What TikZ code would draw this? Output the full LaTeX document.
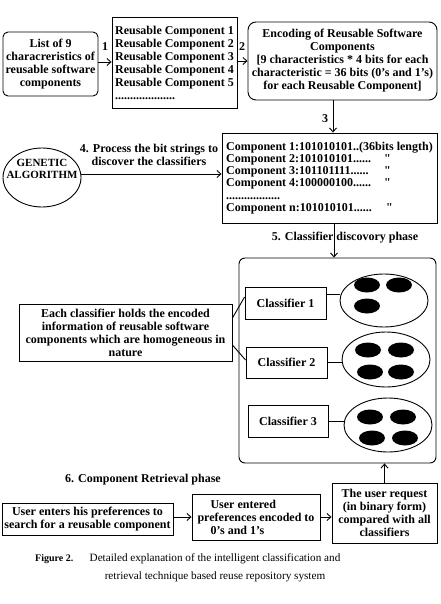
\documentclass[tikz,border=0pt]{standalone}
\usepackage{fontspec}
\setmainfont{Liberation Serif}
\newfontfamily\qfont{Liberation Serif}
\newcommand{\sq}{{\qfont"}}
\usetikzlibrary{arrows.meta,shapes.geometric,calc}
\tikzset{
  lbl/.style={font=\bfseries\fontsize{12}{13}\selectfont, inner sep=0pt},
  box/.style={draw, line width=0.9pt, inner sep=0pt, align=center, lbl},
  rbox/.style={box, rounded corners=6pt},
  arr/.style={line width=0.9pt, -{Straight Barb[length=4pt,width=7pt]}},
  ln/.style={line width=0.9pt},
  blob/.style={fill=black, ellipse, minimum width=26pt, minimum height=15pt, inner sep=0pt},
  oval/.style={draw, ellipse, line width=0.9pt, inner sep=0pt},
}
\begin{document}
\begin{tikzpicture}[x=1pt,y=-1pt]
\useasboundingbox (0,0) rectangle (440,604);

% top row
\node[rbox, rounded corners=5pt, minimum width=95, minimum height=64] (list) at (50.5,64)
  {List of 9\\characreristics of\\reusable software\\components};
\node[box, align=left, minimum width=125, minimum height=91] (reuse) at (174.5,62.5)
  {Reusable Component 1\\Reusable Component 2\\Reusable Component 3\\Reusable Component 4\\Reusable Component 5\\....................};
\node[rbox, rounded corners=8pt, minimum width=189, minimum height=78] (enc) at (342.5,61)
  {Encoding of Reusable Software\\Components\\{[}9 characteristics * 4 bits for each\\characteristic = 36 bits (0's and 1's)\\for each Reusable Component{]}};
\node[lbl] (n1) at (105,47) {1};
\node[lbl] (n2) at (242,47) {2};
\node[lbl] (n3) at (325,119) {3};

% component strings
\node[box, align=left, minimum width=215, minimum height=90, font=\bfseries\fontsize{12}{12.2}\selectfont] (comp) at (329.5,178)
  {Component 1:101010101..(36bits length)\\
   \makebox[158pt][l]{Component 2:101010101......}\sq\\
   \makebox[158pt][l]{Component 3:101101111......}\sq\\
   \makebox[158pt][l]{Component 4:100000100......}\sq\\
   ..................\\
   \makebox[160pt][l]{Component n:101010101......}\sq};

% genetic algorithm
\node[oval, minimum width=78, minimum height=59] (ga) at (42,177.5) {};
\node[lbl, font=\bfseries\fontsize{11}{12}\selectfont, align=center] (gat) at (42,169) {GENETIC\\ALGORITHM};
\node[lbl, align=center] (p4) at (149,155) {4. Process the bit strings to\\discover the classifiers};

% classifier container
\node[lbl] (p5) at (345,238) {5. Classifier discovory phase};
\node[rbox, minimum width=197, minimum height=205] (cont) at (337.5,360.5) {};
\node[box, minimum width=81, minimum height=32] (c1) at (285.5,303) {Classifier 1};
\node[box, minimum width=81, minimum height=31] (c2) at (286.5,362.5) {Classifier 2};
\node[box, minimum width=80, minimum height=32] (c3) at (288,421) {Classifier 3};
\node[oval, minimum width=88, minimum height=53] (e1) at (384,300.5) {};
\node[oval, minimum width=88, minimum height=55] (e2) at (386,359.5) {};
\node[oval, minimum width=88, minimum height=54] (e3) at (388,425) {};
\node[blob] (b1) at (367,285) {};
\node[blob] (b2) at (399,285) {};
\node[blob] (b3) at (367,306) {};
\node[blob] (b4) at (368,350) {};
\node[blob] (b5) at (401,350) {};
\node[blob] (b6) at (370,372) {};
\node[blob] (b7) at (401,372) {};
\node[blob] (b8) at (370,417) {};
\node[blob] (b9) at (403,417) {};
\node[blob] (b10) at (372,438) {};
\node[blob] (b11) at (405,438) {};

\node[box, minimum width=213, minimum height=57] (lbox) at (125.5,332.5)
  {Each classifier holds the encoded\\information of reusable software\\components which are homogeneous in\\nature};

% retrieval
\node[lbl] (p6) at (143,480) {6. Component Retrieval phase};
\node[box, minimum width=171, minimum height=32] (u1) at (87.5,519)
  {User enters his preferences to\\search for a reusable component};
\node[box, align=left, minimum width=128, minimum height=46] (u2) at (256,517)
  {\hspace*{13pt}User entered\\preferences encoded to\\\hspace*{13pt}0's and 1's};
\node[box, minimum width=105, minimum height=60] (u3) at (384.5,513)
  {The user request\\(in binary form)\\compared with all\\classifiers};

% caption
\node[font=\bfseries\fontsize{10}{12}\selectfont, inner sep=0pt, anchor=west] (figl) at (35,559) {Figure 2.};
\node[font=\fontsize{11.2}{18}\selectfont, inner sep=0pt, align=center] (cap) at (215,568)
  {Detailed explanation of the intelligent classification and\\retrieval technique based reuse repository system};

% connectors
\coordinate (y1) at (0,62);
\coordinate (x3) at (333,0);
\coordinate (y4) at (0,174);
\coordinate (x5) at (334,0);
\coordinate (ya) at (0,294);
\coordinate (yb) at (0,318);
\coordinate (yc) at (0,297);
\coordinate (yd) at (0,345);
\coordinate (ye) at (0,360);
\draw[arr] (list.east |- y1) -- (reuse.west |- y1);
\draw[arr] (reuse.east |- enc.west) -- (enc.west);
\draw[arr] (enc.south -| x3) -- (comp.north -| x3);
\draw[arr] (ga.east |- y4) -- (comp.west |- y4);
\draw[arr] (comp.south -| x5) -- (cont.north -| x5);
\draw[ln] (c1.east |- ya) -- (e1.west |- ya);
\draw[ln] (c2.east) -- (c2.east -| e2.west);
\draw[ln] (c3.east) -- (c3.east -| e3.west);
\draw[ln] (lbox.east |- yb) -- (c1.west |- yc);
\draw[ln] (lbox.east |- yd) -- (c2.west |- ye);
\draw[arr] (u1.east |- u2.west) -- (u2.west);
\draw[arr] (u2.east) -- (u2.east -| u3.west);
\draw[arr] (u3.north) -- (u3.north |- cont.south);
\end{tikzpicture}
\end{document}
